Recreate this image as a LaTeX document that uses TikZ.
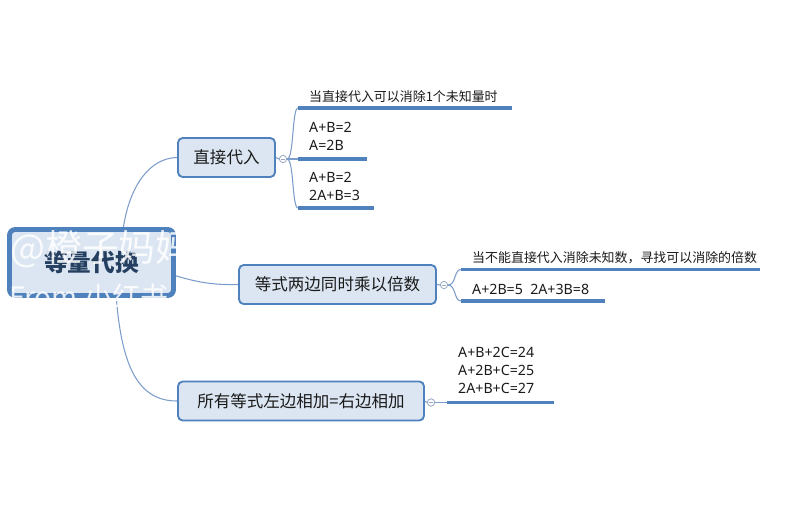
\documentclass[tikz,border=0pt]{standalone}
\usepackage{fontspec}
\setmainfont{Noto Sans CJK SC}
\newfontfamily\eqfont{Noto Sans}
\usepackage{tikz}
\definecolor{mapblue}{HTML}{4F81BD}
\definecolor{mapfill}{HTML}{DCE6F2}
\definecolor{rootink}{HTML}{243F60}
\definecolor{linkblue}{HTML}{7C9CCB}
\definecolor{knobgray}{HTML}{95A7C1}
\definecolor{leafink}{HTML}{1A1A1A}

\begin{document}
\begin{tikzpicture}[x=0.03cm,y=-0.03cm,
  rootbox/.style={draw=mapblue,fill=mapfill,line width=4.2pt,rounded corners=5pt,minimum width=4.92cm,minimum height=1.98cm,inner sep=0pt,text=rootink,font=\fontsize{20.2}{24}\selectfont\bfseries},
  topicbox/.style={draw=mapblue,fill=mapfill,line width=1.6pt,rounded corners=4pt,inner sep=0pt,minimum height=1.17cm,text=leafink,font=\fontsize{14.1}{17}\selectfont},
  knob/.style={circle,draw=knobgray,fill=white,line width=0.7pt,minimum size=0.22cm,inner sep=0pt},
  link/.style={draw=linkblue,line width=0.9pt},
  uline/.style={draw=mapblue,line width=2.6pt},
  leaf/.style={anchor=base west,inner sep=0pt,text=leafink,font=\fontsize{11.05}{14}\selectfont},
  eqn/.style={anchor=base west,inner sep=0pt,text=leafink,font=\eqfont\fontsize{12.1}{14}\selectfont},
  wmark/.style={anchor=base west,inner sep=0pt,text=white,text opacity=0.85}]

\useasboundingbox (0,0) rectangle (791,527);

\node[rootbox] (root) at (91.5,262.5) {等量代换};
\node[topicbox,minimum width=2.91cm] (t1) at (226.5,157.5) {直接代入};
\node[topicbox,minimum width=5.91cm] (t2) at (337.5,284.5) {等式两边同时乘以倍数};
\node[topicbox,minimum width=7.38cm] (t3) at (301,401) {所有等式左边相加=右边相加};

\node[knob] (k1) at (283,159) {};
\node[knob] (k2) at (444,285) {};
\node[knob] (k3) at (431,402.5) {};
\foreach \k in {k1,k2,k3}
    \draw[knobgray,line width=0.6pt] (\k.center) +(-2,0) -- +(2,0);

\draw[link] (root.48) .. controls (130,185) and (150,158) .. (t1.west);
\draw[link] (root.-9) .. controls (200,283) and (215,285) .. (t2.west);
\draw[link] (root.-55) .. controls (122,370) and (140,401) .. (t3.west);
\draw[link] (t1.east) -- (k1.west);
\draw[link] (t2.east) -- (k2.west);
\draw[link] (t3.east) -- (k3.west);

\foreach \n/\xa/\xb/\y in {11/298/512/108,12/298/367/159,13/298/374/208,21/461/760/269.5,22/461/605/301,31/447/554/402.5}
{
    \coordinate (u\n a) at (\xa,\y);
    \coordinate (u\n b) at (\xb,\y);
    \draw[uline] (u\n a) -- (u\n b);
}

\draw[link] (k1.east) .. controls (294,159) and (292,108) .. (u11a);
\draw[link] (k1.east) -- (u12a);
\draw[link] (k1.east) .. controls (294,159) and (292,208) .. (u13a);
\draw[link] (k2.east) .. controls (456,285) and (454,269.5) .. (u21a);
\draw[link] (k2.east) .. controls (456,285) and (454,301) .. (u22a);
\draw[link] (k3.east) -- (u31a);

\node[leaf] (l11) at (309,101) {当直接代入可以消除1个未知量时};
\node[eqn] (l12a) at (309,132) {A+B=2};
\node[eqn] (l12b) at (309,150) {A=2B};
\node[eqn] (l13a) at (309,182) {A+B=2};
\node[eqn] (l13b) at (309,200) {2A+B=3};
\node[leaf] (l21) at (472,262) {当不能直接代入消除未知数，寻找可以消除的倍数};
\node[eqn] (l22) at (472,294) {A+2B=5\ \ 2A+3B=8};
\foreach \t [count=\i] in {A+B+2C=24,A+2B+C=25,2A+B+C=27}
    \node[eqn] (l3\i) at (458,340+17.7*\i) {\t};

\node[wmark,font=\fontsize{31.5}{32}\selectfont] (wm1) at (10,261) {@橙子妈妈};
\node[wmark,font=\fontsize{24}{26}\selectfont] (wm2) at (9,307) {From 小红书};
\end{tikzpicture}
\end{document}
